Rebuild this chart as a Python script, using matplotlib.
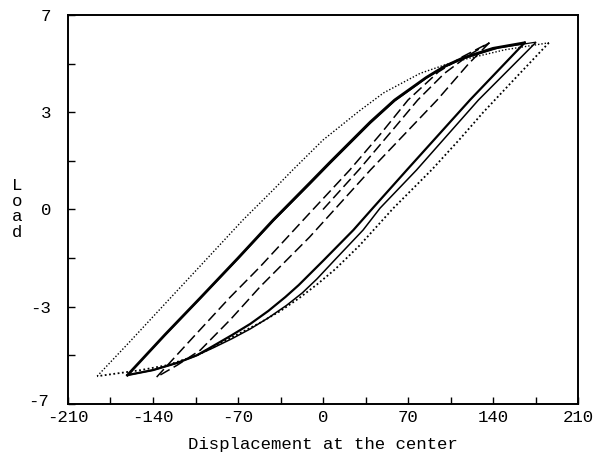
import matplotlib
matplotlib.use("Agg")
import matplotlib.pyplot as plt
from matplotlib.transforms import ScaledTranslation

plt.rcParams['font.family'] = ['Liberation Mono', 'DejaVu Sans Mono']
plt.rcParams['axes.unicode_minus'] = False

# ---- data ----
# dotted outer loop
dot_up_x = [-186, -160, -126, -100, -66, -40, -25, 0, 30, 50, 80, 100, 118, 150, 186]
dot_up_y = [-6.0, -4.8, -3.2, -1.98, -0.38, 0.75, 1.42, 2.5, 3.55, 4.2, 4.9, 5.2, 5.42, 5.75, 6.0]
dot_lo_x = [186, 160, 132, 113, 90, 58, 30, 10, -5, -20, -35, -52, -75, -90, -104, -128, -150, -186]
dot_lo_y = [6.0, 4.8, 3.5, 2.55, 1.45, 0.05, -1.3, -2.15, -2.7, -3.2, -3.65, -4.08, -4.6, -4.95, -5.25, -5.6, -5.78, -6.0]

# thick solid loop
thick_up_x = [-161, -130, -101, -70, -41, -11, 6, 39, 59, 85, 100, 115, 140, 166]
thick_up_y = [-5.96, -4.5, -3.18, -1.75, -0.38, 0.95, 1.71, 3.15, 3.94, 4.75, 5.15, 5.45, 5.8, 6.0]
thick_lo_x = [166, 121, 69, 41, 25, 0, -20, -31, -45, -60, -75, -90, -104, -120, -140, -161]
thick_lo_y = [6.0, 3.94, 1.42, 0.05, -0.74, -1.85, -2.72, -3.15, -3.65, -4.12, -4.52, -4.9, -5.25, -5.52, -5.78, -5.96]

# thin solid loop
thin_up_x = [-161, -130, -101, -70, -41, -11, 6, 39, 59, 85, 100, 115, 145, 175]
thin_up_y = [-5.96, -4.52, -3.2, -1.78, -0.42, 0.9, 1.66, 3.1, 3.9, 4.72, 5.12, 5.42, 5.82, 6.02]
thin_lo_x = [175, 128, 77, 47, 33, 10, -5, -17, -30, -45, -60, -75, -90, -104, -120, -140, -161]
thin_lo_y = [6.0, 3.94, 1.42, 0.05, -0.74, -1.8, -2.5, -3.0, -3.45, -3.9, -4.3, -4.65, -4.97, -5.25, -5.52, -5.78, -5.96]

# dashed loop (with initial loading from origin)
dash_v_x = [0, 30, 60, 78, 100, 120, 137]
dash_v_y = [0, 1.45, 3.0, 3.94, 4.9, 5.55, 6.0]
dash_lo_x = [137, 120, 94, 39, -11, -52, -76, -101, -120, -137]
dash_lo_y = [6.0, 5.25, 3.94, 1.42, -0.99, -2.79, -3.95, -5.06, -5.6, -6.03]
dash_up_x = [-137, -107, -77, -52, -11, 22, 48, 70, 95, 115, 137]
dash_up_y = [-6.03, -4.6, -3.18, -2.07, -0.13, 1.42, 2.75, 3.94, 4.95, 5.5, 6.0]

xticks = [-210, -175, -140, -105, -70, -35, 0, 35, 70, 105, 140, 175, 210]
xticklabels = ['-210', '', '-140', '', '-70', '', '0', '', '70', '', '140', '', '210']
yticks = [-7, -5.25, -3.5, -1.75, 0, 1.75, 3.5, 5.25, 7]
yticklabels = ['-7', '', '-3', '', '0', '', '3', '', '7']

fig = plt.figure(figsize=(5.96, 4.58), dpi=100)
ax = fig.add_axes([68/596, 1 - 404/458, 510/596, 389/458])

dotted = (0, (1, 1.4))
ax.plot(dot_up_x, dot_up_y, color='black', lw=1.0, ls=dotted)
ax.plot(dot_lo_x, dot_lo_y, color='black', lw=1.3, ls=dotted)
ax.plot(thick_up_x, thick_up_y, color='black', lw=2.0)
ax.plot(thick_lo_x, thick_lo_y, color='black', lw=1.6)
ax.plot(thin_up_x, thin_up_y, color='black', lw=0.9)
ax.plot(thin_lo_x, thin_lo_y, color='black', lw=1.1)
dashed = (0, (7, 3))
ax.plot(dash_v_x, dash_v_y, color='black', lw=1.1, ls=dashed)
ax.plot(dash_lo_x, dash_lo_y, color='black', lw=1.1, ls=dashed)
ax.plot(dash_up_x, dash_up_y, color='black', lw=1.1, ls=dashed)

ax.set_xlim(-210, 210)
ax.set_ylim(-7, 7)
ax.set_xticks(xticks)
ax.set_xticklabels(xticklabels)
ax.set_yticks(yticks)
ax.set_yticklabels(yticklabels)
ax.tick_params(direction='in', length=5, width=1.0, labelsize=12.5, colors='black')
ax.tick_params(axis='x', pad=4)
ax.tick_params(axis='y', pad=12)
for s in ax.spines.values():
    s.set_linewidth(1.4)

# "-7" sits a little above the axis corner in the reference
lbl = ax.get_yticklabels()[0]
lbl.set_transform(lbl.get_transform() + ScaledTranslation(-2/72, 3/72, fig.dpi_scale_trans))

ax.set_xlabel('Displacement at the center', fontsize=12.5, labelpad=9)
fig.text(17/596, 1 - 209/458, 'L\no\na\nd', fontsize=12.5, ha='center', va='center',
         linespacing=1.05)

fig.savefig('out.png', dpi=100)
